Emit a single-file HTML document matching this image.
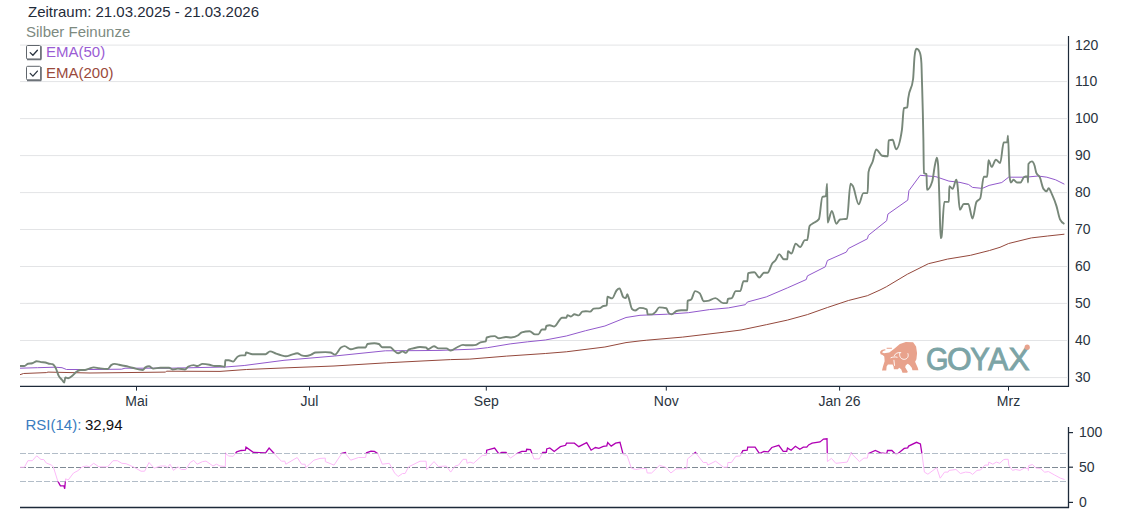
<!DOCTYPE html>
<html><head><meta charset="utf-8"><title>Silber Feinunze Chart</title>
<style>
html,body{margin:0;padding:0;background:#fff;width:1140px;height:513px;overflow:hidden;}
svg{position:absolute;left:0;top:0;display:block}
text{font-family:"Liberation Sans",sans-serif;}
.ax{font-size:14px;fill:#2a3440;}
.t15{font-size:15px;}
.logo{font-size:30.5px;font-weight:normal;fill:#7ca4a6;stroke:#7ca4a6;stroke-width:0.9px;}
</style></head><body>
<svg width="1140" height="513" viewBox="0 0 1140 513">
<line x1="20" y1="377.6" x2="1067" y2="377.6" stroke="#e3e4e6" stroke-width="1"/>
<line x1="20" y1="340.5" x2="1067" y2="340.5" stroke="#e3e4e6" stroke-width="1"/>
<line x1="20" y1="303.4" x2="1067" y2="303.4" stroke="#e3e4e6" stroke-width="1"/>
<line x1="20" y1="266.5" x2="1067" y2="266.5" stroke="#e3e4e6" stroke-width="1"/>
<line x1="20" y1="229.5" x2="1067" y2="229.5" stroke="#e3e4e6" stroke-width="1"/>
<line x1="20" y1="192.6" x2="1067" y2="192.6" stroke="#e3e4e6" stroke-width="1"/>
<line x1="20" y1="155.6" x2="1067" y2="155.6" stroke="#e3e4e6" stroke-width="1"/>
<line x1="20" y1="118.6" x2="1067" y2="118.6" stroke="#e3e4e6" stroke-width="1"/>
<line x1="20" y1="81.6" x2="1067" y2="81.6" stroke="#e3e4e6" stroke-width="1"/>
<line x1="20" y1="45.1" x2="1067" y2="45.1" stroke="#e3e4e6" stroke-width="1"/>
<text x="1075" y="382.2" class="ax">30</text>
<text x="1075" y="345.1" class="ax">40</text>
<text x="1075" y="308.0" class="ax">50</text>
<text x="1075" y="271.1" class="ax">60</text>
<text x="1075" y="234.1" class="ax">70</text>
<text x="1075" y="197.2" class="ax">80</text>
<text x="1075" y="160.2" class="ax">90</text>
<text x="1075" y="123.2" class="ax">100</text>
<text x="1075" y="86.2" class="ax">110</text>
<text x="1075" y="49.7" class="ax">120</text>
<line x1="1068.5" y1="36" x2="1068.5" y2="387" stroke="#1d2a3a" stroke-width="1.2"/>
<line x1="20" y1="386.3" x2="1069" y2="386.3" stroke="#1d2a3a" stroke-width="1.3"/>
<line x1="136.5" y1="386" x2="136.5" y2="390.6" stroke="#1d2a3a" stroke-width="1"/>
<text x="136.5" y="405.7" class="ax" text-anchor="middle">Mai</text>
<line x1="309.5" y1="386" x2="309.5" y2="390.6" stroke="#1d2a3a" stroke-width="1"/>
<text x="309.5" y="405.7" class="ax" text-anchor="middle">Jul</text>
<line x1="486.3" y1="386" x2="486.3" y2="390.6" stroke="#1d2a3a" stroke-width="1"/>
<text x="486.3" y="405.7" class="ax" text-anchor="middle">Sep</text>
<line x1="666.3" y1="386" x2="666.3" y2="390.6" stroke="#1d2a3a" stroke-width="1"/>
<text x="666.3" y="405.7" class="ax" text-anchor="middle">Nov</text>
<line x1="839.6" y1="386" x2="839.6" y2="390.6" stroke="#1d2a3a" stroke-width="1"/>
<text x="839.6" y="405.7" class="ax" text-anchor="middle">Jan 26</text>
<line x1="1008.5" y1="386" x2="1008.5" y2="390.6" stroke="#1d2a3a" stroke-width="1"/>
<text x="1008.5" y="405.7" class="ax" text-anchor="middle">Mrz</text>
<path fill="#e8a28c" d="M880.65,354.24 879.99,351.92 881.64,349.93 884.62,349.14 885.95,349.93 883.30,350.93 881.97,352.25 883.96,353.25 889.26,352.58 894.56,348.61 899.85,343.97 905.81,341.99 913.10,342.32 916.08,346.62 917.07,353.25 916.41,359.21 915.09,361.85 917.74,367.81 918.40,370.13 912.44,370.13 911.77,367.81 909.79,365.17 907.80,363.84 905.81,365.17 905.15,367.15 907.80,371.79 907.14,372.78 902.50,372.78 901.18,369.14 899.19,367.81 897.87,369.14 893.89,369.14 893.56,366.49 892.57,364.50 887.93,364.50 886.61,366.49 886.28,370.46 881.97,370.46 882.97,366.49 884.62,361.19 884.29,356.56 882.64,354.90 Z"/><path fill="none" stroke="#e8a28c" stroke-width="1" d="M886.61,348.28 L891.91,348.28"/><g fill="none" stroke="#fff" stroke-width="0.9"><path d="M899.85,352.91 C898.86,356.56 901.18,359.34 904.16,359.34 C907.14,359.21 909.13,356.56 907.80,353.25"/><path d="M894.23,355.89 C895.22,353.25 897.87,352.25 901.18,352.58"/><path d="M890.58,357.88 C892.57,356.89 895.22,356.56 897.54,357.35"/><path d="M893.89,359.87 L894.56,365.83"/></g>
<text transform="translate(925.98,369.85) scale(0.947,1)" x="0" y="0" class="logo">G</text><text transform="translate(946.98,369.85) scale(1.04,1)" x="0" y="0" class="logo">O</text><text transform="translate(970.29,369.85) scale(0.96,1)" x="0" y="0" class="logo">Y</text><text transform="translate(987.99,369.85) scale(1.0,1)" x="0" y="0" class="logo">A</text><text transform="translate(1008.54,369.85) scale(1.04,1)" x="0" y="0" class="logo">X</text>
<circle cx="1027.2" cy="347.2" r="2.6" fill="#e8a28c"/>
<polyline points="20,374.7 23.5,373.5 46.3,372.6 48,372.1 90,373 165.6,372.1 166.5,371.2 220,371.4 246.3,369.5 290,367.7 334,366 386.7,362.8 420,361.1 450.5,359.6 469.8,359.1 506.7,356.1 545.3,353.5 566.3,351.8 604.9,347 626,342.6 640,340.9 646.8,340.2 682.7,337.1 724.8,332.1 741,330 766.3,324.7 787.4,320.1 807.4,314.6 827.4,307.5 848.4,300.5 867.4,295.7 880,290 886.3,286.8 907.4,274.2 928.4,263.7 939,261.2 947.4,259.1 970.5,255.3 989.5,250.5 1000,247.3 1008.6,243.5 1031.4,237.9 1047.7,236 1064.4,234.2" fill="none" stroke="#94483c" stroke-width="1"/>
<polyline points="20,368.2 37.5,367.7 55,367.2 62,367.7 66.5,369.5 90,369.5 121.5,369.2 125,368.2 170,368.2 206,367.4 225.3,367 244.2,365.5 284,360.3 334.7,356 385.3,350.8 420,350.6 440,350.4 475.1,349.1 487.4,347.7 510.2,343.9 527.7,341.8 545.3,340 566.3,336 585.6,330.7 604.9,326 626,317.5 640,315.3 667.4,314.2 688.4,312.7 709.5,309.6 728.4,307.9 745.3,304.7 747.4,302 766.3,296.9 787.4,287.9 806.3,279.5 807.4,275.9 825.3,266.8 827.4,260.5 846.3,252.1 848.4,248.5 867.4,238.8 868.4,235.3 886.7,220.7 887.9,214.1 907.8,200.1 908.9,190.7 920.2,175.3 935.9,176.7 948.9,181.1 960,182.4 968.6,184.5 972.5,187.4 982.3,188.4 989.1,185.4 1001.8,182.5 1008.6,177.2 1025.8,177.2 1038.1,176 1046.8,177.2 1055.6,179.8 1064.4,184.2" fill="none" stroke="#9259cc" stroke-width="1"/>
<path d="M20.00,366.00C21.47,366.00 22.93,366.00 24.40,366.00C25.57,366.00 26.73,363.91 27.90,363.70C29.37,363.43 30.83,363.57 32.30,363.30C33.77,363.03 35.23,361.20 36.70,361.20C38.13,361.20 39.57,361.88 41.00,362.10C42.47,362.32 43.93,362.23 45.40,362.50C46.60,362.72 47.80,363.42 49.00,363.70C50.17,363.98 51.33,363.87 52.50,364.20C53.67,364.53 54.83,366.17 56.00,368.60C56.87,370.40 57.73,373.80 58.60,375.60C59.77,378.03 60.93,378.55 62.10,380.00C62.80,380.87 63.50,382.60 64.20,382.60C64.57,382.60 64.93,377.40 65.30,377.40C66.27,377.40 67.23,378.20 68.20,378.20C69.67,378.20 71.13,376.80 72.60,375.60C73.77,374.64 74.93,373.00 76.10,372.10C77.57,370.97 79.03,370.00 80.50,370.00C82.00,370.00 83.50,370.00 85.00,370.00C86.43,370.00 87.87,369.03 89.30,368.60C90.77,368.16 92.23,367.40 93.70,367.40C95.47,367.40 97.23,367.97 99.00,368.20C101.90,368.57 104.80,369.00 107.70,369.00C108.87,369.00 110.03,365.90 111.20,365.10C112.37,364.30 113.53,363.90 114.70,363.90C116.17,363.90 117.63,364.42 119.10,364.70C121.17,365.10 123.23,365.53 125.30,366.00C127.63,366.53 129.97,367.16 132.30,367.70C135.80,368.52 139.30,370.00 142.80,370.00C143.67,370.00 144.53,367.93 145.40,367.40C146.60,366.67 147.80,366.30 149.00,366.30C150.43,366.30 151.87,368.60 153.30,368.60C155.67,368.60 158.03,367.70 160.40,367.70C163.27,367.70 166.13,367.70 169.00,367.70C170.20,367.70 171.40,369.50 172.60,369.50C174.37,369.50 176.13,368.60 177.90,368.60C180.27,368.60 182.63,369.50 185.00,369.50C186.13,369.50 187.27,367.10 188.40,366.50C190.17,365.57 191.93,365.10 193.70,365.10C194.87,365.10 196.03,366.00 197.20,366.00C198.97,366.00 200.73,363.90 202.50,363.90C204.83,363.90 207.17,364.25 209.50,364.70C211.23,365.03 212.97,366.00 214.70,366.00C216.47,366.00 218.23,366.00 220.00,366.00C221.63,366.00 223.27,366.80 224.90,366.80C225.03,366.80 225.17,360.20 225.30,360.20C226.47,360.20 227.63,360.20 228.80,360.20C230.27,360.20 231.73,361.60 233.20,361.60C234.63,361.60 236.07,357.55 237.50,356.70C238.97,355.83 240.43,355.40 241.90,355.40C243.07,355.40 244.23,355.40 245.40,355.40C245.60,355.40 245.80,352.50 246.00,352.50C248.17,352.50 250.33,354.20 252.50,354.20C256.87,354.20 261.23,354.20 265.60,354.20C267.07,354.20 268.53,351.40 270.00,351.40C272.03,351.40 274.07,352.99 276.10,353.70C277.87,354.31 279.63,354.95 281.40,355.40C282.87,355.78 284.33,356.30 285.80,356.30C287.83,356.30 289.87,355.15 291.90,354.60C293.67,354.12 295.43,353.20 297.20,353.20C298.67,353.20 300.13,355.00 301.60,355.40C303.07,355.80 304.53,356.00 306.00,356.00C307.73,356.00 309.47,355.26 311.20,354.60C312.67,354.04 314.13,352.62 315.60,352.50C318.83,352.23 322.07,352.10 325.30,352.10C327.03,352.10 328.77,352.23 330.50,352.50C331.97,352.73 333.43,354.60 334.90,354.60C336.93,354.60 338.97,348.88 341.00,347.50C342.20,346.69 343.40,346.10 344.60,346.10C346.63,346.10 348.67,349.30 350.70,349.30C353.33,349.30 355.97,347.50 358.60,347.50C360.93,347.50 363.27,347.50 365.60,347.50C366.20,347.50 366.80,344.14 367.40,344.00C369.73,343.47 372.07,343.20 374.40,343.20C375.87,343.20 377.33,343.47 378.80,344.00C379.97,344.42 381.13,347.20 382.30,347.20C384.93,347.20 387.57,347.20 390.20,347.20C391.37,347.20 392.53,349.28 393.70,350.20C395.17,351.36 396.63,353.30 398.10,353.30C399.57,353.30 401.03,351.40 402.50,351.40C403.67,351.40 404.83,352.80 406.00,352.80C406.87,352.80 407.73,350.07 408.60,349.60C410.07,348.80 411.53,348.76 413.00,348.40C415.33,347.83 417.67,347.00 420.00,347.00C422.03,347.00 424.07,347.17 426.10,347.50C426.70,347.60 427.30,349.30 427.90,349.30C429.93,349.30 431.97,346.30 434.00,346.30C435.47,346.30 436.93,348.40 438.40,348.40C441.03,348.40 443.67,348.40 446.30,348.40C447.77,348.40 449.23,350.50 450.70,350.50C452.73,350.50 454.77,348.43 456.80,347.50C458.87,346.56 460.93,344.90 463.00,344.90C464.17,344.90 465.33,345.30 466.50,345.30C468.53,345.30 470.57,345.30 472.60,345.30C473.77,345.30 474.93,345.17 476.10,344.90C477.57,344.56 479.03,342.80 480.50,342.30C482.27,341.70 484.03,342.00 485.80,341.40C486.10,341.30 486.40,337.61 486.70,337.50C489.33,336.57 491.97,336.10 494.60,336.10C496.03,336.10 497.47,338.20 498.90,338.20C501.27,338.20 503.63,337.00 506.00,337.00C507.73,337.00 509.47,337.50 511.20,337.50C513.53,337.50 515.87,336.77 518.20,335.30C519.40,334.55 520.60,332.64 521.80,332.30C524.40,331.57 527.00,331.20 529.60,331.20C531.37,331.20 533.13,334.40 534.90,334.40C536.07,334.40 537.23,334.40 538.40,334.40C539.57,334.40 540.73,329.50 541.90,329.50C543.07,329.50 544.23,329.50 545.40,329.50C545.70,329.50 546.00,326.12 546.30,326.00C547.47,325.53 548.63,325.30 549.80,325.30C551.27,325.30 552.73,326.50 554.20,326.50C556.83,326.50 559.47,317.70 562.10,317.70C563.57,317.70 565.03,317.70 566.50,317.70C566.80,317.70 567.10,315.10 567.40,315.10C568.57,315.10 569.73,316.50 570.90,316.50C572.07,316.50 573.23,314.20 574.40,314.20C575.87,314.20 577.33,315.40 578.80,315.40C579.97,315.40 581.13,311.87 582.30,311.60C583.47,311.33 584.63,311.20 585.80,311.20C587.27,311.20 588.73,311.60 590.20,311.60C591.37,311.60 592.53,308.79 593.70,308.60C595.73,308.27 597.77,308.43 599.80,308.10C600.97,307.91 602.13,306.40 603.30,306.00C604.47,305.60 605.63,305.80 606.80,305.40C607.00,305.33 607.20,296.70 607.40,296.70C608.97,296.70 610.53,298.40 612.10,298.40C613.57,298.40 615.03,292.18 616.50,290.50C617.50,289.36 618.50,288.40 619.50,288.40C620.80,288.40 622.10,296.40 623.40,297.30C624.17,297.83 624.93,298.10 625.70,298.10C626.23,298.10 626.77,294.20 627.30,294.20C627.80,294.20 628.30,296.67 628.80,298.10C629.87,301.15 630.93,307.97 632.00,309.00C633.03,310.00 634.07,310.50 635.10,310.50C636.67,310.50 638.23,307.90 639.80,307.90C642.13,307.90 644.47,308.37 646.80,309.30C647.07,309.41 647.33,314.40 647.60,314.40C649.13,314.40 650.67,314.40 652.20,314.40C653.27,314.40 654.33,313.10 655.40,312.10C656.70,310.88 658.00,307.40 659.30,307.40C661.63,307.40 663.97,307.67 666.30,308.20C667.07,308.38 667.83,312.16 668.60,312.90C669.63,313.90 670.67,314.40 671.70,314.40C673.27,314.40 674.83,311.53 676.40,311.00C677.97,310.47 679.53,310.20 681.10,310.20C683.17,310.20 685.23,310.20 687.30,310.20C687.40,310.20 687.50,300.97 687.60,300.90C688.80,300.03 690.00,300.47 691.20,299.60C692.50,298.66 693.80,291.10 695.10,291.10C696.67,291.10 698.23,291.87 699.80,293.40C701.10,294.67 702.40,301.20 703.70,301.20C705.00,301.20 706.30,301.10 707.60,300.90C710.20,300.50 712.80,298.10 715.40,298.10C718.00,298.10 720.60,303.10 723.20,303.10C724.50,303.10 725.80,303.10 727.10,303.10C727.37,303.10 727.63,298.90 727.90,298.80C729.20,298.33 730.50,298.57 731.80,298.10C733.10,297.63 734.40,291.10 735.70,291.10C737.23,291.10 738.77,291.10 740.30,291.10C741.37,291.10 742.43,281.20 743.50,281.20C744.80,281.20 746.10,281.20 747.40,281.20C747.63,281.20 747.87,273.16 748.10,273.10C750.20,272.57 752.30,272.30 754.40,272.30C756.03,272.30 757.67,277.50 759.30,277.50C760.87,277.50 762.43,272.80 764.00,272.80C765.17,272.80 766.33,272.80 767.50,272.80C769.07,272.80 770.63,265.72 772.20,263.50C773.37,261.85 774.53,261.57 775.70,260.00C776.87,258.43 778.03,254.10 779.20,254.10C780.77,254.10 782.33,259.30 783.90,259.30C785.07,259.30 786.23,259.30 787.40,259.30C787.57,259.30 787.73,251.30 787.90,251.30C789.13,251.30 790.37,253.60 791.60,253.60C792.93,253.60 794.27,243.60 795.60,243.60C797.13,243.60 798.67,247.10 800.20,247.10C801.77,247.10 803.33,240.10 804.90,240.10C805.67,240.10 806.43,240.10 807.20,240.10C808.00,240.10 808.80,227.38 809.60,226.10C810.77,224.23 811.93,224.20 813.10,223.30C815.03,221.81 816.97,221.90 818.90,219.10C820.07,217.41 821.23,197.37 822.40,196.90C823.57,196.43 824.73,196.67 825.90,196.20C826.30,196.04 826.70,183.60 827.10,183.60C827.27,183.60 827.43,222.60 827.60,222.60C829.00,222.60 830.40,210.90 831.80,210.90C833.33,210.90 834.87,223.70 836.40,223.70C837.60,223.70 838.80,219.74 840.00,219.50C842.33,219.03 844.67,219.27 847.00,218.80C848.17,218.57 849.33,183.70 850.50,183.70C851.30,183.70 852.10,184.80 852.90,186.10C854.83,189.24 856.77,204.30 858.70,204.30C860.27,204.30 861.83,193.10 863.40,193.10C864.80,193.10 866.20,193.10 867.60,193.10C867.90,193.10 868.20,173.61 868.50,172.10C869.90,165.03 871.30,165.75 872.70,161.50C873.87,157.96 875.03,149.40 876.20,149.40C878.17,149.40 880.13,155.36 882.10,155.70C884.03,156.03 885.97,156.20 887.90,156.20C888.13,156.20 888.37,140.58 888.60,140.50C889.93,140.03 891.27,139.80 892.60,139.80C893.77,139.80 894.93,149.20 896.10,149.20C898.03,149.20 899.97,142.80 901.90,130.00C902.57,125.59 903.23,108.55 903.90,108.20C905.03,107.60 906.17,107.90 907.30,107.30C907.60,107.14 907.90,100.89 908.20,98.50C909.83,85.50 911.47,92.00 913.10,79.00C913.57,75.29 914.03,61.76 914.50,57.00C914.80,53.94 915.10,52.25 915.40,51.00C915.77,49.47 916.13,48.70 916.50,48.70C916.93,48.70 917.37,48.87 917.80,49.20C918.30,49.58 918.80,50.11 919.30,51.30C919.73,52.33 920.17,52.70 920.60,55.50C920.87,57.22 921.13,58.00 921.40,63.00C921.57,66.13 921.73,73.31 921.90,79.00C922.40,96.08 922.90,110.09 923.40,140.00C923.57,149.97 923.73,172.97 923.90,173.10C924.77,173.77 925.63,173.43 926.50,174.10C926.67,174.23 926.83,189.80 927.00,189.80C928.73,189.80 930.47,187.03 932.20,181.50C933.13,178.52 934.07,169.10 935.00,164.80C935.63,161.88 936.27,157.80 936.90,157.80C937.30,157.80 937.70,160.13 938.10,164.80C938.60,170.63 939.10,190.44 939.60,205.60C939.93,215.71 940.27,238.00 940.60,238.00C940.90,238.00 941.20,237.67 941.50,237.00C942.43,234.93 943.37,201.90 944.30,201.90C945.83,201.90 947.37,201.90 948.90,201.90C949.03,201.90 949.17,186.10 949.30,186.10C950.40,186.10 951.50,188.90 952.60,188.90C953.83,188.90 955.07,179.60 956.30,179.60C956.63,179.60 956.97,181.62 957.30,183.50C958.17,188.38 959.03,209.80 959.90,209.80C961.20,209.80 962.50,204.00 963.80,204.00C965.30,204.00 966.80,204.00 968.30,204.00C969.70,204.00 971.10,218.60 972.50,218.60C973.80,218.60 975.10,204.60 976.40,202.00C977.70,199.40 979.00,200.70 980.30,198.10C981.47,195.77 982.63,176.70 983.80,176.70C984.93,176.70 986.07,176.70 987.20,176.70C987.63,176.70 988.07,160.10 988.50,160.10C989.53,160.10 990.57,166.90 991.60,166.90C993.03,166.90 994.47,159.70 995.90,159.70C997.33,159.70 998.77,163.00 1000.20,163.00C1001.37,163.00 1002.53,142.70 1003.70,142.50C1004.87,142.30 1006.03,142.40 1007.20,142.20C1007.47,142.15 1007.73,135.70 1008.00,135.70C1008.53,135.70 1009.07,171.94 1009.60,176.70C1010.03,180.57 1010.47,182.50 1010.90,182.50C1011.77,182.50 1012.63,179.80 1013.50,179.80C1014.67,179.80 1015.83,182.50 1017.00,182.50C1018.17,182.50 1019.33,182.50 1020.50,182.50C1021.67,182.50 1022.83,177.80 1024.00,177.20C1025.17,176.60 1026.33,176.30 1027.50,176.30C1027.70,176.30 1027.90,182.50 1028.10,182.50C1028.20,182.50 1028.30,164.15 1028.40,164.00C1029.57,162.27 1030.73,161.40 1031.90,161.40C1032.80,161.40 1033.70,162.96 1034.60,165.80C1035.17,167.59 1035.73,171.38 1036.30,172.80C1037.47,175.73 1038.63,174.57 1039.80,177.20C1040.97,179.83 1042.13,186.87 1043.30,188.60C1044.47,190.33 1045.63,191.20 1046.80,191.20C1047.40,191.20 1048.00,188.20 1048.60,188.20C1049.77,188.20 1050.93,192.15 1052.10,194.70C1053.57,197.90 1055.03,201.34 1056.50,206.10C1057.67,209.89 1058.83,216.81 1060.00,219.30C1061.47,222.43 1062.93,223.22 1064.40,224.00" fill="none" stroke="#778779" stroke-width="1.9" stroke-linejoin="round"/>
<line x1="20" y1="453.5" x2="1067" y2="453.5" stroke="#b2bdc8" stroke-width="1" stroke-dasharray="6 2"/>
<line x1="20" y1="481.5" x2="1067" y2="481.5" stroke="#b2bdc8" stroke-width="1" stroke-dasharray="6 2"/>
<line x1="20" y1="467.5" x2="1067" y2="467.5" stroke="#7f8a95" stroke-width="1.2" stroke-dasharray="6 2"/>
<defs><clipPath id="cin"><rect x="0" y="453.3" width="1140" height="28.1"/></clipPath><clipPath id="cout"><rect x="0" y="0" width="1140" height="453.3"/><rect x="0" y="481.4" width="1140" height="40"/></clipPath></defs>
<polyline points="20,467.2 24.4,467.2 27.9,460.7 32.3,460.7 36.7,455.8 41,459.5 43.7,459.5 46.3,463 51.6,465.1 53.3,466.8 57.7,480.9 60.4,485.8 63.9,485.8 64.7,488.8 65.6,478.8 68.2,480 73.5,473 77.9,470.7 82.3,466.8 86.7,466 89.3,466.8 93.7,463.3 98.9,466.8 107.7,466.8 113,460.7 117.4,460.7 121.8,463.3 126.1,463.7 134,467.2 141,471.2 144.6,471.2 149,462.5 154.2,468.2 160.4,466 165.6,466 167.4,467.7 170,464.2 173.5,470.4 177.9,466.8 181.4,469.5 185.8,469.5 190.2,462.5 193.7,460.4 197.2,464.2 202.5,461.6 206,461.1 213,466 216.5,464.2 220,466 225.3,466.5 225.6,453.7 228.8,456 233.2,456.3 236.7,451.9 241.1,450.5 245.4,450.2 246,447.2 253.3,452.3 265.6,452.8 269.1,448.1 273.5,452.8 281.4,461.2 284.9,461.2 285.8,464.2 297.2,457.5 301.6,464.2 305.1,464.2 305.6,467.7 309.5,464.2 313.9,460.2 320,458.4 325.3,458.1 325.3,461.6 334,465.1 341.9,453.3 345.4,452.5 346.3,454.6 350.7,460.2 358.6,457.5 365.6,457.5 366.5,452.8 370.9,451.1 374.4,451.4 377.9,453.7 382.3,464.2 389.3,463.3 394.6,473 398.1,476.5 402.5,473.5 405.1,473.5 408.6,466.8 413,464.7 420,461.2 426.1,461.2 426.7,469.5 434,461.6 438.4,466.5 446.3,466 450.7,472.1 455.1,466 458.6,465.1 463,459.3 466.5,459.3 467,463.3 470,462.1 473.5,463.3 482.3,455.4 486.3,455.4 486.7,450.2 494.6,448.1 498.9,454 501.6,452.5 506,452.5 510.4,458.1 517.4,453.3 521.8,451.4 526.1,451.4 526.7,449.3 530.5,449.6 534,458.9 539.3,458.9 542.8,452.5 546.3,452.5 546.7,448.9 549.8,447.9 554.2,451.4 560.4,446.7 565.6,445.3 566.5,443.2 574.4,443.2 578.8,446.7 583.2,444.4 586.7,442.6 591.1,450.2 595.4,447.5 598.9,448.4 603.3,446.3 606.8,445.8 607.7,442.6 611.2,446.1 615.6,443.2 620,442.3 623.2,454.6 627,455.4 631.4,468.2 635.8,469.5 641.1,468.6 646.3,468.6 647.2,473 651.6,473 659.5,465.4 665.6,467.2 670.9,473 676.1,468.9 686.7,468.6 687.5,458.9 695.4,452.5 703.3,462.5 706.8,462.5 707.7,465.1 715.6,461.2 723.5,467.2 727.4,467.2 727.9,462.5 731.4,462.5 735.8,456.3 740.2,456 742.8,450.7 747.2,450.2 747.7,447.2 755.1,447.2 759.5,453.7 763.9,451.4 768.2,451.9 771.8,447.5 778.8,445.3 783.2,451.4 786.7,451.4 787.5,448.1 791.1,450.2 795.4,446.3 799.8,449.3 803.3,447.2 806.8,447.2 808.6,444.9 812.1,443.2 820,441.9 823.5,439.1 827,438.8 827.4,461.6 831.4,458.4 835.8,463.3 847.2,462.1 851.2,453.3 859.5,461.6 863.9,458.1 867.4,458.1 868.2,453.7 875.3,450.5 880.5,452.8 886.7,453.7 887.5,450.5 891.9,450.5 896.3,454.9 904.2,448.4 907.7,447.9 908.6,446.1 916.5,442.3 920.4,444 921.8,452.8 924.4,472.1 927.9,474.2 936.7,467.7 940.2,478.2 944.6,472.1 948.1,472.1 949,470.4 956,469.5 960.4,473.5 965.6,472.1 970,472.5 972.6,474.4 977,470.4 980.5,470 984.9,465.1 988.4,465.1 988.8,462.1 992.8,464.2 996.3,462.1 999.8,463.3 1003.3,459.8 1005,459.3 1008.2,459.3 1008.8,465.2 1012.5,470.4 1015.7,469.5 1020,470.4 1024.3,468.1 1028.1,468.4 1028.4,470.6 1028.6,465.7 1032.4,464.5 1036.1,468.1 1040.4,468.4 1044.7,472.2 1048.5,471.6 1054.4,474.9 1060.3,478.1 1064.6,479.5" fill="none" stroke="#fcbaf8" stroke-width="1" clip-path="url(#cin)"/>
<polyline points="20,467.2 24.4,467.2 27.9,460.7 32.3,460.7 36.7,455.8 41,459.5 43.7,459.5 46.3,463 51.6,465.1 53.3,466.8 57.7,480.9 60.4,485.8 63.9,485.8 64.7,488.8 65.6,478.8 68.2,480 73.5,473 77.9,470.7 82.3,466.8 86.7,466 89.3,466.8 93.7,463.3 98.9,466.8 107.7,466.8 113,460.7 117.4,460.7 121.8,463.3 126.1,463.7 134,467.2 141,471.2 144.6,471.2 149,462.5 154.2,468.2 160.4,466 165.6,466 167.4,467.7 170,464.2 173.5,470.4 177.9,466.8 181.4,469.5 185.8,469.5 190.2,462.5 193.7,460.4 197.2,464.2 202.5,461.6 206,461.1 213,466 216.5,464.2 220,466 225.3,466.5 225.6,453.7 228.8,456 233.2,456.3 236.7,451.9 241.1,450.5 245.4,450.2 246,447.2 253.3,452.3 265.6,452.8 269.1,448.1 273.5,452.8 281.4,461.2 284.9,461.2 285.8,464.2 297.2,457.5 301.6,464.2 305.1,464.2 305.6,467.7 309.5,464.2 313.9,460.2 320,458.4 325.3,458.1 325.3,461.6 334,465.1 341.9,453.3 345.4,452.5 346.3,454.6 350.7,460.2 358.6,457.5 365.6,457.5 366.5,452.8 370.9,451.1 374.4,451.4 377.9,453.7 382.3,464.2 389.3,463.3 394.6,473 398.1,476.5 402.5,473.5 405.1,473.5 408.6,466.8 413,464.7 420,461.2 426.1,461.2 426.7,469.5 434,461.6 438.4,466.5 446.3,466 450.7,472.1 455.1,466 458.6,465.1 463,459.3 466.5,459.3 467,463.3 470,462.1 473.5,463.3 482.3,455.4 486.3,455.4 486.7,450.2 494.6,448.1 498.9,454 501.6,452.5 506,452.5 510.4,458.1 517.4,453.3 521.8,451.4 526.1,451.4 526.7,449.3 530.5,449.6 534,458.9 539.3,458.9 542.8,452.5 546.3,452.5 546.7,448.9 549.8,447.9 554.2,451.4 560.4,446.7 565.6,445.3 566.5,443.2 574.4,443.2 578.8,446.7 583.2,444.4 586.7,442.6 591.1,450.2 595.4,447.5 598.9,448.4 603.3,446.3 606.8,445.8 607.7,442.6 611.2,446.1 615.6,443.2 620,442.3 623.2,454.6 627,455.4 631.4,468.2 635.8,469.5 641.1,468.6 646.3,468.6 647.2,473 651.6,473 659.5,465.4 665.6,467.2 670.9,473 676.1,468.9 686.7,468.6 687.5,458.9 695.4,452.5 703.3,462.5 706.8,462.5 707.7,465.1 715.6,461.2 723.5,467.2 727.4,467.2 727.9,462.5 731.4,462.5 735.8,456.3 740.2,456 742.8,450.7 747.2,450.2 747.7,447.2 755.1,447.2 759.5,453.7 763.9,451.4 768.2,451.9 771.8,447.5 778.8,445.3 783.2,451.4 786.7,451.4 787.5,448.1 791.1,450.2 795.4,446.3 799.8,449.3 803.3,447.2 806.8,447.2 808.6,444.9 812.1,443.2 820,441.9 823.5,439.1 827,438.8 827.4,461.6 831.4,458.4 835.8,463.3 847.2,462.1 851.2,453.3 859.5,461.6 863.9,458.1 867.4,458.1 868.2,453.7 875.3,450.5 880.5,452.8 886.7,453.7 887.5,450.5 891.9,450.5 896.3,454.9 904.2,448.4 907.7,447.9 908.6,446.1 916.5,442.3 920.4,444 921.8,452.8 924.4,472.1 927.9,474.2 936.7,467.7 940.2,478.2 944.6,472.1 948.1,472.1 949,470.4 956,469.5 960.4,473.5 965.6,472.1 970,472.5 972.6,474.4 977,470.4 980.5,470 984.9,465.1 988.4,465.1 988.8,462.1 992.8,464.2 996.3,462.1 999.8,463.3 1003.3,459.8 1005,459.3 1008.2,459.3 1008.8,465.2 1012.5,470.4 1015.7,469.5 1020,470.4 1024.3,468.1 1028.1,468.4 1028.4,470.6 1028.6,465.7 1032.4,464.5 1036.1,468.1 1040.4,468.4 1044.7,472.2 1048.5,471.6 1054.4,474.9 1060.3,478.1 1064.6,479.5" fill="none" stroke="#b000b4" stroke-width="1.3" clip-path="url(#cout)"/>
<line x1="1068.5" y1="427" x2="1068.5" y2="508" stroke="#1d2a3a" stroke-width="1.3"/>
<line x1="20" y1="507.5" x2="1069" y2="507.5" stroke="#1d2a3a" stroke-width="1.5"/>
<line x1="1068" y1="432.6" x2="1073" y2="432.6" stroke="#1d2a3a" stroke-width="1.2"/>
<text x="1079" y="437.2" class="ax">100</text>
<line x1="1068" y1="467.2" x2="1073" y2="467.2" stroke="#1d2a3a" stroke-width="1.2"/>
<text x="1079" y="471.8" class="ax">50</text>
<line x1="1068" y1="502.4" x2="1073" y2="502.4" stroke="#1d2a3a" stroke-width="1.2"/>
<text x="1079" y="507.0" class="ax">0</text>
<text x="28" y="16.8" class="t15" fill="#1f2b3a">Zeitraum: 21.03.2025 - 21.03.2026</text>
<text x="26" y="36.8" class="t15" fill="#7d8a7f">Silber Feinunze</text>
<text x="46" y="57" class="t15" fill="#9a5cd4">EMA(50)</text>
<text x="46" y="78" class="t15" fill="#9a4a3c">EMA(200)</text>
<text x="25.5" y="429.8" class="t15" fill="#3a7cbf">RSI(14):</text>
<text x="85" y="429.8" class="t15" fill="#111">32,94</text>
<rect x="26.5" y="45.5" width="14.2" height="13.6" rx="1.2" fill="#fff" stroke="#60666c" stroke-width="1"/>
<path d="M27,59.6 L41.2,59.6 M41,46.3 L41,59.6" stroke="#6c7278" stroke-width="1.5" fill="none"/>
<path d="M30.2,52.6 L32.9,55.3 L37.4,50.3" stroke="#2a3440" stroke-width="1.3" fill="none" stroke-linecap="round" stroke-linejoin="round"/>
<rect x="26.5" y="66.3" width="14.2" height="13.6" rx="1.2" fill="#fff" stroke="#60666c" stroke-width="1"/>
<path d="M27,80.4 L41.2,80.4 M41,67.1 L41,80.4" stroke="#6c7278" stroke-width="1.5" fill="none"/>
<path d="M30.2,73.4 L32.9,76.1 L37.4,71.1" stroke="#2a3440" stroke-width="1.3" fill="none" stroke-linecap="round" stroke-linejoin="round"/>
</svg>
</body></html>
